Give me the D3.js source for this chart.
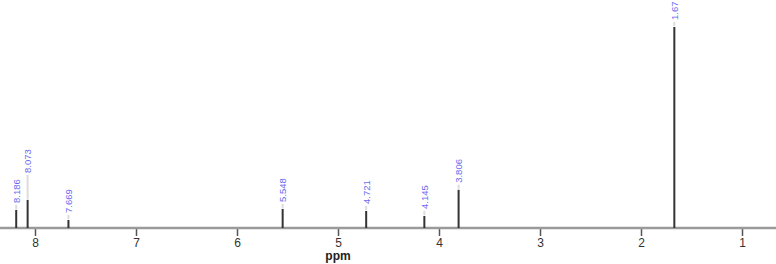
<!DOCTYPE html>
<html>
<head>
<meta charset="utf-8">
<script src="https://cdn.jsdelivr.net/npm/d3@7"></script>
<style>
  body { margin: 0; background: #fff; }
  svg { display: block; font-family: "Liberation Sans", Arial, sans-serif; }
</style>
</head>
<body>
<div id="chart"></div>
<script>
// peak list (relative intensity, tallest = 100)
const shifts = [8.186, 8.073, 7.669, 5.548, 4.721, 4.145, 3.806, 1.67];
const intensities = [9, 14, 4, 9.5, 8.5, 6, 19, 100];
const peakLabels = ["8.186", "8.073", "7.669", "5.548", "4.721", "4.145", "3.806", "1.67"];
const ticks = [8, 7, 6, 5, 4, 3, 2, 1];

const width = 776;
const height = 264;
const baseY = 228;

const svg = d3.select("#chart")
  .append("svg")
  .attr("width", width)
  .attr("height", height);

// ppm runs right to left
const x = d3.scaleLinear().domain([8.3465, 0.6634]).range([0, width]);
const y = d3.scaleLinear().domain([0, 100]).range([baseY, 27]);

// axis
const axis = svg.append("g")
  .attr("transform", "translate(0," + (baseY + 1) + ")")
  .call(d3.axisBottom(x).tickValues(ticks).tickFormat(d3.format("d")).tickSize(7).tickPadding(2));
axis.select(".domain").remove();
axis.selectAll(".tick line").attr("stroke", "#555").attr("stroke-width", 1.5);
axis.selectAll(".tick text").attr("fill", "#333").style("font-size", "12px");

svg.append("line")
  .attr("x1", 0).attr("x2", width)
  .attr("y1", baseY).attr("y2", baseY)
  .attr("stroke", "#9a9a9a")
  .attr("stroke-width", 2.5);

svg.append("text")
  .attr("x", x(5))
  .attr("y", 260)
  .attr("text-anchor", "middle")
  .style("font-size", "12px")
  .style("font-weight", "bold")
  .attr("fill", "#222")
  .text("ppm");

// label placement: sit above the peak, push up when it collides with the previous label
const labelLen = 23;
const peaks = shifts.map((s, i) => ({ s: s, v: intensities[i], t: peakLabels[i] }));
let prev = null;
peaks.forEach((p) => {
  p.px = x(p.s);
  p.top = y(p.v);
  p.lb = p.top - 7;
  if (prev && Math.abs(p.px - prev.px) < 12 && p.lb > prev.lb - labelLen - 7) {
    p.lb = prev.lb - labelLen - 7;
  }
  prev = p;
});

const g = svg.selectAll(".peak").data(peaks).enter().append("g").attr("class", "peak");

g.append("line")
  .attr("x1", (d) => d.px).attr("x2", (d) => d.px)
  .attr("y1", (d) => d.lb + 2).attr("y2", (d) => d.top - 1)
  .attr("stroke", "#dcdcdc")
  .attr("stroke-width", 2);

g.append("line")
  .attr("x1", (d) => d.px).attr("x2", (d) => d.px)
  .attr("y1", baseY).attr("y2", (d) => d.top)
  .attr("stroke", "#333")
  .attr("stroke-width", 2);

g.append("text")
  .attr("transform", (d) => "translate(" + (d.px + 3.5) + "," + d.lb + ") rotate(-90)")
  .style("font-size", "9.5px")
  .attr("fill", "#6a6af0")
  .text((d) => d.t);
</script>
</body>
</html>
